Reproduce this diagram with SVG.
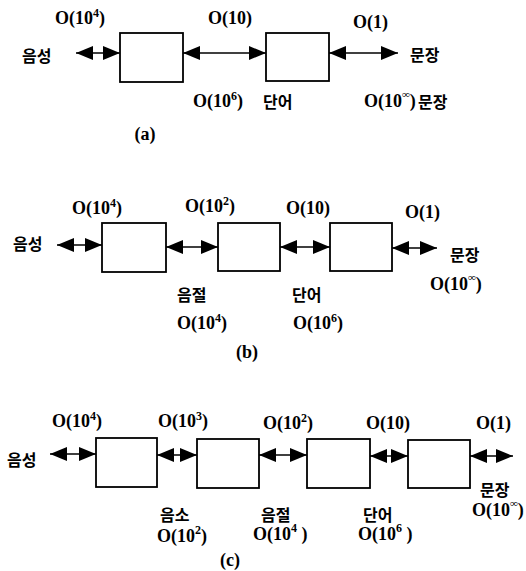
<svg xmlns="http://www.w3.org/2000/svg" width="526" height="571" viewBox="0 0 526 571">
<style>
.box{fill:#fff;stroke:#000;stroke-width:1.8}
.c{stroke:#000;stroke-width:1.3;fill:none;marker-start:url(#ah);marker-end:url(#ah)}
.o{font-family:"Liberation Serif",serif;font-size:18px;font-weight:bold;fill:#000}
.k{font-family:"Noto Sans CJK KR","Noto Sans",sans-serif;font-size:16px;font-weight:bold;fill:#000}
.s{font-size:12px}
.inf{font-size:11px}
</style>
<defs>
<marker id="ah" markerUnits="userSpaceOnUse" markerWidth="17" markerHeight="14" refX="17" refY="7" orient="auto-start-reverse" viewBox="0 0 17 14">
<path d="M0,0 L17,7 L0,14 Z" fill="#000"/>
</marker>
</defs>
<rect width="526" height="571" fill="#fff"/>

<!-- (a) -->
<g id="a-box1"><rect class="box" x="120" y="33" width="63" height="49"/></g>
<g id="a-box2"><rect class="box" x="266" y="33" width="63" height="48"/></g>
<!-- (b) -->
<g id="b-box1"><rect class="box" x="102" y="223" width="64" height="49"/></g>
<g id="b-box2"><rect class="box" x="218" y="223" width="62" height="48"/></g>
<g id="b-box3"><rect class="box" x="330" y="223" width="62" height="48"/></g>
<!-- (c) -->
<g id="c-box1"><rect class="box" x="96" y="438" width="61" height="49"/></g>
<g id="c-box2"><rect class="box" x="197" y="439" width="62" height="49"/></g>
<g id="c-box3"><rect class="box" x="307" y="439" width="63" height="49"/></g>
<g id="c-box4"><rect class="box" x="408" y="440" width="62" height="48"/></g>

<g id="connectors">
<line class="c" x1="76" y1="53" x2="120" y2="53"/>
<line class="c" x1="183" y1="53" x2="266" y2="53"/>
<line class="c" x1="329" y1="53" x2="398" y2="53"/>

<line class="c" x1="57" y1="245" x2="102" y2="245"/>
<line class="c" x1="166" y1="247" x2="218" y2="247"/>
<line class="c" x1="280" y1="247" x2="330" y2="247"/>
<line class="c" x1="392" y1="248" x2="437" y2="248"/>

<line class="c" x1="50" y1="454" x2="96" y2="454"/>
<line class="c" x1="157" y1="455" x2="197" y2="455"/>
<line class="c" x1="259" y1="455" x2="307" y2="455"/>
<line class="c" x1="370" y1="456" x2="408" y2="456"/>
<line class="c" x1="470" y1="456" x2="513" y2="456"/>
</g>

<g id="labels-a">
<text class="k" x="22" y="62">음성</text>
<text class="o" x="55" y="24">O(10<tspan class="s" dy="-7">4</tspan><tspan dy="7">)</tspan></text>
<text class="o" x="208" y="24">O(10)</text>
<text class="o" x="353" y="28">O(1)</text>
<text class="k" x="410" y="61">문장</text>
<text class="o" x="193" y="107">O(10<tspan class="s" dy="-7">6</tspan><tspan dy="7">)</tspan></text>
<text class="k" x="263" y="108">단어</text>
<text class="o" x="364" y="107">O(10<tspan class="inf" dy="-9">∞</tspan><tspan dy="9">)</tspan></text>
<text class="k" x="418" y="108">문장</text>
<text class="o" x="145" y="140" text-anchor="middle">(a)</text>
</g>

<g id="labels-b">
<text class="k" x="13" y="250">음성</text>
<text class="o" x="72" y="214">O(10<tspan class="s" dy="-7">4</tspan><tspan dy="7">)</tspan></text>
<text class="o" x="185" y="212">O(10<tspan class="s" dy="-7">2</tspan><tspan dy="7">)</tspan></text>
<text class="o" x="286" y="214">O(10)</text>
<text class="o" x="405" y="218">O(1)</text>
<text class="k" x="450" y="261">문장</text>
<text class="o" x="430" y="290">O(10<tspan class="inf" dy="-9">∞</tspan><tspan dy="9">)</tspan></text>
<text class="k" x="177" y="301">음절</text>
<text class="o" x="177" y="329">O(10<tspan class="s" dy="-7">4</tspan><tspan dy="7">)</tspan></text>
<text class="k" x="292" y="301">단어</text>
<text class="o" x="293" y="329">O(10<tspan class="s" dy="-7">6</tspan><tspan dy="7">)</tspan></text>
<text class="o" x="247" y="358" text-anchor="middle">(b)</text>
</g>

<g id="labels-c">
<text class="k" x="7" y="466">음성</text>
<text class="o" x="52" y="427">O(10<tspan class="s" dy="-7">4</tspan><tspan dy="7">)</tspan></text>
<text class="o" x="158" y="427">O(10<tspan class="s" dy="-7">3</tspan><tspan dy="7">)</tspan></text>
<text class="o" x="263" y="429">O(10<tspan class="s" dy="-7">2</tspan><tspan dy="7">)</tspan></text>
<text class="o" x="366" y="429">O(10)</text>
<text class="o" x="476" y="429">O(1)</text>
<text class="k" x="480" y="496">문장</text>
<text class="o" x="472" y="516">O(10<tspan class="inf" dy="-9">∞</tspan><tspan dy="9">)</tspan></text>
<text class="k" x="160" y="521">음소</text>
<text class="o" x="157" y="542">O(10<tspan class="s" dy="-8">2</tspan><tspan dy="8">)</tspan></text>
<text class="k" x="261" y="521">음절</text>
<text class="o" x="253" y="540">O(10<tspan class="s" dy="-8">4</tspan><tspan dy="8"> )</tspan></text>
<text class="k" x="363" y="521">단어</text>
<text class="o" x="358" y="540">O(10<tspan class="s" dy="-8">6</tspan><tspan dy="8"> )</tspan></text>
<text class="o" x="230" y="566" text-anchor="middle">(c)</text>
</g>
</svg>
